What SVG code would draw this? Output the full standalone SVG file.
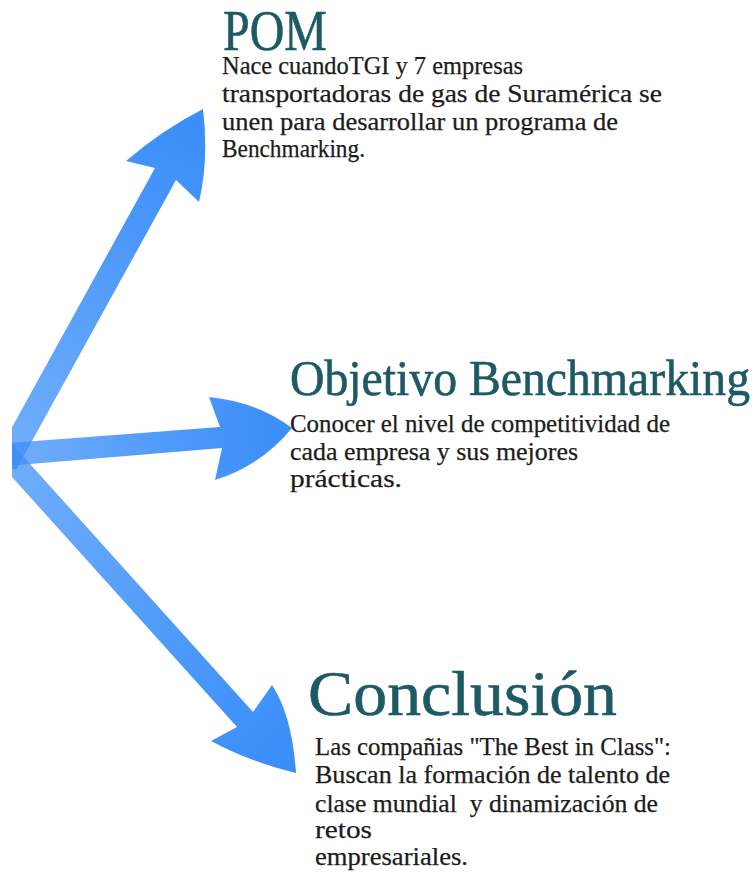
<svg xmlns="http://www.w3.org/2000/svg" width="756" height="879" viewBox="0 0 756 879">
<defs>
<style>
.title{font-family:"Liberation Serif","Times New Roman",serif;fill:#1d5a64;stroke:#1d5a64;stroke-width:0.6}
.body{font-family:"Liberation Serif","Times New Roman",serif;font-size:25px;fill:#1c1c1c;stroke:#1c1c1c;stroke-width:0.25}
.arrow{stroke:none}
</style>
<clipPath id="clipL"><rect x="12" y="0" width="744" height="879"/></clipPath>
<linearGradient id="g1" gradientUnits="userSpaceOnUse" x1="12" y1="450" x2="203" y2="109">
<stop offset="0" stop-color="#3a8ef9" stop-opacity="0.72"/>
<stop offset="0.75" stop-color="#3a8ef9" stop-opacity="0.95"/>
<stop offset="1" stop-color="#3a8ef9" stop-opacity="1"/>
</linearGradient>
<linearGradient id="g2" gradientUnits="userSpaceOnUse" x1="12" y1="452" x2="292" y2="428">
<stop offset="0" stop-color="#3a8ef9" stop-opacity="0.72"/>
<stop offset="0.75" stop-color="#3a8ef9" stop-opacity="0.95"/>
<stop offset="1" stop-color="#3a8ef9" stop-opacity="1"/>
</linearGradient>
<linearGradient id="g3" gradientUnits="userSpaceOnUse" x1="12" y1="455" x2="296" y2="773">
<stop offset="0" stop-color="#3a8ef9" stop-opacity="0.72"/>
<stop offset="0.75" stop-color="#3a8ef9" stop-opacity="0.95"/>
<stop offset="1" stop-color="#3a8ef9" stop-opacity="1"/>
</linearGradient>
</defs>
<rect width="756" height="879" fill="#ffffff"/>
<g id="connectors" clip-path="url(#clipL)">
<path class="arrow" fill="url(#g1)" d="M -6,460 L 155,168 L 126,161 Q 162,130 203,109 Q 209,160 199,202 L 176,180 L 16,470 Z"/>
<path class="arrow" fill="url(#g2)" d="M -5,444 L 220,427 L 209,397 Q 258,402 292,428 Q 262,465 215,480 L 222,448 L -5,467 Z"/>
<path class="arrow" fill="url(#g3)" d="M -5,425 L 253,712 L 272,685 Q 292,715 296,773 Q 250,762 211,741 L 237,727 L -5,458 Z"/>
</g>
<g id="node-pom">
<text class="title" x="223" y="50" font-size="58" textLength="104" lengthAdjust="spacingAndGlyphs">POM</text>
<text class="body" x="222" y="74" textLength="301" lengthAdjust="spacingAndGlyphs">Nace cuandoTGI y 7 empresas</text>
<text class="body" x="222" y="102" textLength="440" lengthAdjust="spacingAndGlyphs">transportadoras de gas de Suramérica se</text>
<text class="body" x="222" y="129.5" textLength="396" lengthAdjust="spacingAndGlyphs">unen para desarrollar un programa de</text>
<text class="body" x="222" y="157" textLength="143" lengthAdjust="spacingAndGlyphs">Benchmarking.</text>
</g>
<g id="node-objetivo">
<text class="title" x="290" y="395" font-size="50" textLength="460" lengthAdjust="spacingAndGlyphs">Objetivo Benchmarking</text>
<text class="body" x="290" y="432" textLength="380" lengthAdjust="spacingAndGlyphs">Conocer el nivel de competitividad de</text>
<text class="body" x="290" y="459.5" textLength="288" lengthAdjust="spacingAndGlyphs">cada empresa y sus mejores</text>
<text class="body" x="290" y="487" textLength="112" lengthAdjust="spacingAndGlyphs">prácticas.</text>
</g>
<g id="node-conclusion">
<text class="title" x="308" y="715" font-size="63" textLength="309" lengthAdjust="spacingAndGlyphs">Conclusión</text>
<text class="body" x="315" y="755" textLength="356" lengthAdjust="spacingAndGlyphs">Las compañias "The Best in Class":</text>
<text class="body" x="315" y="783" textLength="355" lengthAdjust="spacingAndGlyphs">Buscan la formación de talento de</text>
<text class="body" x="315" y="812" textLength="343" lengthAdjust="spacingAndGlyphs" xml:space="preserve">clase mundial  y dinamización de</text>
<text class="body" x="315" y="838" textLength="57" lengthAdjust="spacingAndGlyphs">retos</text>
<text class="body" x="315" y="865" textLength="153" lengthAdjust="spacingAndGlyphs">empresariales.</text>
</g>
</svg>
